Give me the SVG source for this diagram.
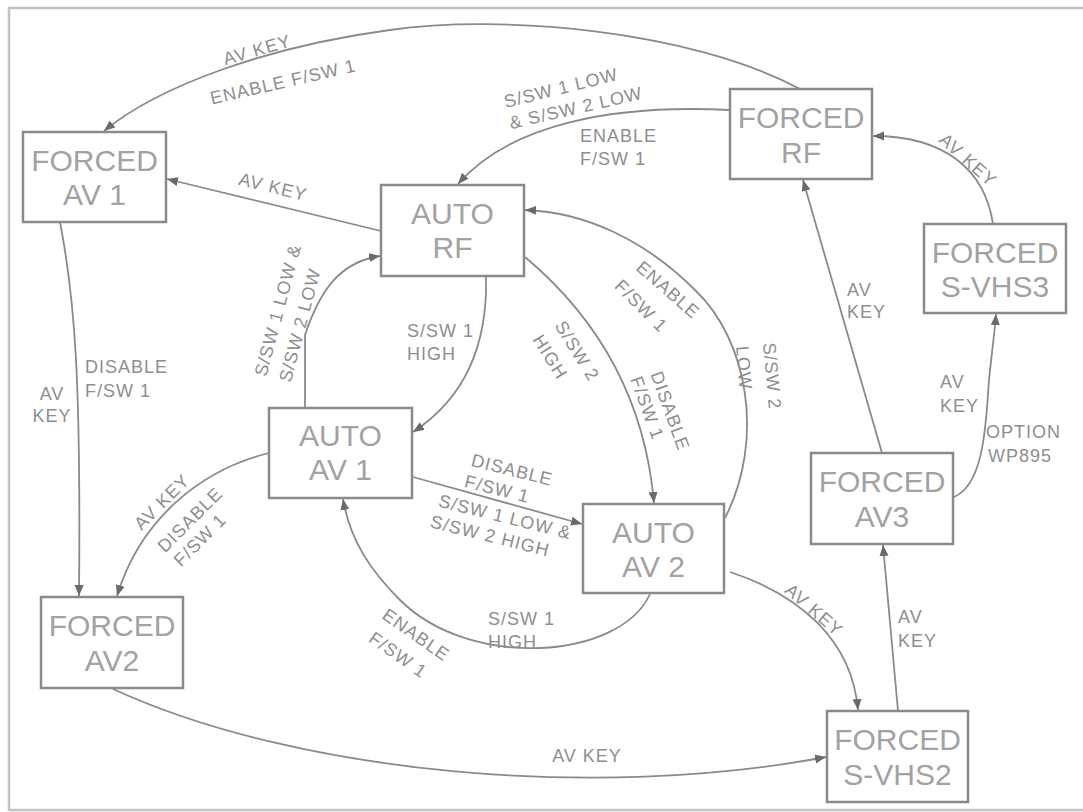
<svg xmlns="http://www.w3.org/2000/svg" width="1083" height="812" viewBox="0 0 1083 812">
<defs>
<style>
.frame{fill:none;stroke:#c4c4c4;stroke-width:2.5}
.box{fill:#fff;stroke:#8a8a8a;stroke-width:2.5}
.nt{font-family:"Liberation Sans",Arial,sans-serif;font-size:30px;fill:#a2a2a2;text-anchor:middle}
.ln{fill:none;stroke:#8a8a8a;stroke-width:1.8;marker-end:url(#ah)}
.lb{font-family:"Liberation Sans",Arial,sans-serif;font-size:18px;fill:#8e8e8e;letter-spacing:1px}
.c{text-anchor:middle}
</style>
<marker id="ah" markerUnits="userSpaceOnUse" markerWidth="12" markerHeight="10" refX="11" refY="4.5" orient="auto">
<path d="M0,0 L11,4.5 L0,9 z" fill="#6a6a6a"/>
</marker>
</defs>
<rect width="1083" height="812" fill="#fff"/>
<path class="frame" d="M1083,8 H9 V810 H1083"/>

<g id="connectors">
<!-- FORCED RF -> FORCED AV 1 -->
<path class="ln" d="M800,89 C690,30 500,14 390,30 C270,46 160,85 104,131"/>
<!-- FORCED AV1 -> FORCED AV2 -->
<path class="ln" d="M60,222 C75,300 81,380 79,596"/>
<!-- AUTO RF -> FORCED AV1 -->
<path class="ln" d="M381,231 L167,179"/>
<!-- FORCED RF -> AUTO RF -->
<path class="ln" d="M730,110 C610,104 510,125 458,184"/>
<!-- FORCED S-VHS3 -> FORCED RF -->
<path class="ln" d="M993,224 C985,170 945,136 873,136"/>
<!-- FORCED AV3 -> FORCED RF -->
<path class="ln" d="M882,453 L803,180"/>
<!-- FORCED AV3 -> FORCED S-VHS3 -->
<path class="ln" d="M954,497 C985,484 986,420 989,380 C992,350 995,330 996,314"/>
<!-- FORCED S-VHS2 -> FORCED AV3 -->
<path class="ln" d="M898,711 L883,545"/>
<!-- AUTO AV2 -> FORCED S-VHS2 -->
<path class="ln" d="M730,572 C800,595 852,640 858,710"/>
<!-- FORCED AV2 -> FORCED S-VHS2 -->
<path class="ln" d="M113,689 C300,775 600,800 826,757"/>
<!-- AUTO AV1 -> AUTO RF -->
<path class="ln" d="M305,408 L305,335 C320,290 340,262 380,256"/>
<!-- AUTO RF -> AUTO AV1 -->
<path class="ln" d="M486,276 C488,350 462,400 413,432"/>
<!-- AUTO RF -> AUTO AV2 -->
<path class="ln" d="M525,257 C600,320 645,400 654,503"/>
<!-- AUTO AV2 -> AUTO RF -->
<path class="ln" d="M725,518 C765,440 748,340 695,290 C645,240 585,212 525,210"/>
<!-- AUTO AV1 -> AUTO AV2 -->
<path class="ln" d="M413,477 L582,524"/>
<!-- AUTO AV2 -> AUTO AV1 -->
<path class="ln" d="M650,594 C620,660 470,670 400,600 C370,570 350,540 343,499"/>
<!-- AUTO AV1 -> FORCED AV2 -->
<path class="ln" d="M269,453 C200,470 140,520 117,596"/>
</g>

<g id="labels">
<text class="lb c" transform="translate(257,50) rotate(-16)" dy="6">AV KEY</text>
<text class="lb c" transform="translate(283,82) rotate(-13)" dy="6">ENABLE F/SW 1</text>
<text class="lb c" x="52" y="400">AV</text>
<text class="lb c" x="52" y="422">KEY</text>
<text class="lb" x="85" y="373">DISABLE</text>
<text class="lb" x="85" y="397">F/SW 1</text>
<text class="lb c" transform="translate(273,187) rotate(14)" dy="6">AV KEY</text>
<text class="lb c" transform="translate(561,88) rotate(-14)" dy="6">S/SW 1 LOW</text>
<text class="lb c" transform="translate(576,108) rotate(-13)" dy="6">&amp; S/SW 2 LOW</text>
<text class="lb" x="580" y="142">ENABLE</text>
<text class="lb" x="580" y="165">F/SW 1</text>
<text class="lb c" transform="translate(968,160) rotate(42)" dy="6">AV KEY</text>
<text class="lb" x="847" y="296">AV</text>
<text class="lb" x="847" y="318">KEY</text>
<text class="lb" x="940" y="388">AV</text>
<text class="lb" x="940" y="412">KEY</text>
<text class="lb" x="986" y="438">OPTION</text>
<text class="lb" x="988" y="462">WP895</text>
<text class="lb" x="898" y="623">AV</text>
<text class="lb" x="898" y="647">KEY</text>
<text class="lb c" transform="translate(814,610) rotate(41)" dy="6">AV KEY</text>
<text class="lb c" x="587" y="762">AV KEY</text>
<text class="lb c" transform="translate(278,310) rotate(-75)" dy="6">S/SW 1 LOW &amp;</text>
<text class="lb c" transform="translate(300,325) rotate(-75)" dy="6">S/SW 2 LOW</text>
<text class="lb" x="407" y="337">S/SW 1</text>
<text class="lb" x="407" y="360">HIGH</text>
<text class="lb c" transform="translate(577,351) rotate(58)" dy="6">S/SW 2</text>
<text class="lb c" transform="translate(550,357) rotate(58)" dy="6">HIGH</text>
<text class="lb c" transform="translate(670,411) rotate(70)" dy="6">DISABLE</text>
<text class="lb c" transform="translate(647,408) rotate(70)" dy="6">F/SW 1</text>
<text class="lb c" transform="translate(668,290) rotate(41)" dy="6">ENABLE</text>
<text class="lb c" transform="translate(641,306) rotate(45)" dy="6">F/SW 1</text>
<text class="lb c" transform="translate(772,376) rotate(85)" dy="6">S/SW 2</text>
<text class="lb c" transform="translate(744,368) rotate(85)" dy="6">LOW</text>
<text class="lb c" transform="translate(512,470) rotate(14)" dy="6">DISABLE</text>
<text class="lb c" transform="translate(497,489) rotate(14)" dy="6">F/SW 1</text>
<text class="lb c" transform="translate(505,517) rotate(14)" dy="6">S/SW 1 LOW &amp;</text>
<text class="lb c" transform="translate(490,536) rotate(14)" dy="6">S/SW 2 HIGH</text>
<text class="lb" x="488" y="625">S/SW 1</text>
<text class="lb" x="488" y="648">HIGH</text>
<text class="lb c" transform="translate(416,635) rotate(35)" dy="6">ENABLE</text>
<text class="lb c" transform="translate(398,655) rotate(35)" dy="6">F/SW 1</text>
<text class="lb c" transform="translate(162,502) rotate(-45)" dy="6">AV KEY</text>
<text class="lb c" transform="translate(190,520) rotate(-45)" dy="6">DISABLE</text>
<text class="lb c" transform="translate(200,540) rotate(-45)" dy="6">F/SW 1</text>
</g>

<g id="forced-av1"><rect class="box" x="23" y="132" width="143" height="90"/><text class="nt" x="94.5" y="171">FORCED</text><text class="nt" x="94.5" y="205">AV 1</text></g>
<g id="auto-rf"><rect class="box" x="381" y="185" width="143" height="91"/><text class="nt" x="452.5" y="224">AUTO</text><text class="nt" x="452.5" y="258">RF</text></g>
<g id="forced-rf"><rect class="box" x="730" y="89" width="142" height="90"/><text class="nt" x="801" y="128">FORCED</text><text class="nt" x="801" y="163">RF</text></g>
<g id="forced-svhs3"><rect class="box" x="924" y="224" width="142" height="89"/><text class="nt" x="995" y="263">FORCED</text><text class="nt" x="995" y="297">S-VHS3</text></g>
<g id="auto-av1"><rect class="box" x="269" y="408" width="143" height="90"/><text class="nt" x="340.5" y="446">AUTO</text><text class="nt" x="340.5" y="480">AV 1</text></g>
<g id="auto-av2"><rect class="box" x="583" y="504" width="141" height="89"/><text class="nt" x="653.5" y="543">AUTO</text><text class="nt" x="653.5" y="577">AV 2</text></g>
<g id="forced-av3"><rect class="box" x="811" y="453" width="142" height="91"/><text class="nt" x="882" y="492">FORCED</text><text class="nt" x="882" y="527">AV3</text></g>
<g id="forced-av2"><rect class="box" x="41" y="597" width="142" height="91"/><text class="nt" x="112" y="636">FORCED</text><text class="nt" x="112" y="671">AV2</text></g>
<g id="forced-svhs2"><rect class="box" x="827" y="711" width="141" height="91"/><text class="nt" x="897.5" y="750">FORCED</text><text class="nt" x="897.5" y="785">S-VHS2</text></g>
</svg>
